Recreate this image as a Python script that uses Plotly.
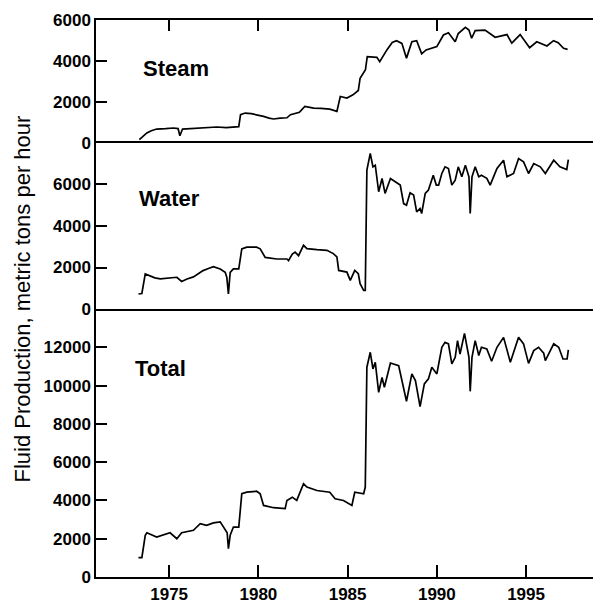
import plotly.graph_objects as go

# ---- data ----
steam_year = [1973.33, 1973.5, 1973.75, 1974.0, 1974.3, 1974.8, 1975.24, 1975.5, 1975.6, 1975.75,
              1976.2, 1976.74, 1977.2, 1977.67, 1978.2, 1978.6, 1978.9, 1979.0, 1979.26, 1979.6,
              1979.9, 1980.29, 1980.6, 1980.85, 1981.22, 1981.6, 1981.8, 1982.0, 1982.3, 1982.6,
              1983.1, 1983.5, 1984.0, 1984.4, 1984.59, 1984.96, 1985.3, 1985.6, 1985.7, 1986.0,
              1986.1, 1986.64, 1986.8, 1987.2, 1987.5, 1987.74, 1988.04, 1988.3, 1988.6, 1988.87,
              1989.15, 1989.4, 1990.0, 1990.37, 1990.65, 1991.03, 1991.2, 1991.6, 1991.8, 1991.95,
              1992.15, 1992.7, 1993.27, 1993.93, 1994.2, 1994.67, 1995.2, 1995.6, 1996.17, 1996.54,
              1996.8, 1997.1, 1997.33]
steam_val = [160, 300, 490, 600, 680, 700, 730, 700, 355, 680,
             700, 730, 760, 780, 750, 760, 800, 1380, 1460, 1430,
             1380, 1300, 1210, 1170, 1215, 1230, 1380, 1430, 1500, 1780,
             1700, 1690, 1650, 1540, 2270, 2190, 2350, 2560, 3160, 3570,
             4210, 4180, 3970, 4540, 4900, 4990, 4860, 4140, 4940, 4990,
             4350, 4540, 4700, 5270, 5380, 4940, 5340, 5640, 5510, 5110,
             5480, 5510, 5160, 5290, 4870, 5290, 4650, 4940, 4730, 4990,
             4890, 4620, 4570]

water_year = [1973.28, 1973.47, 1973.66, 1973.93, 1974.2, 1974.5, 1975.0, 1975.43, 1975.7, 1976.0,
              1976.36, 1976.9, 1977.2, 1977.48, 1977.86, 1978.14, 1978.23, 1978.32, 1978.42, 1978.6,
              1978.9, 1979.07, 1979.35, 1979.9, 1980.1, 1980.38, 1981.03, 1981.6, 1981.69, 1981.9,
              1982.06, 1982.25, 1982.53, 1982.72, 1983.28, 1983.84, 1984.2, 1984.4, 1984.5, 1984.96,
              1985.15, 1985.24, 1985.4, 1985.6, 1985.7, 1985.9, 1985.99, 1986.08, 1986.27, 1986.42,
              1986.55, 1986.74, 1986.93, 1987.1, 1987.4, 1987.67, 1987.95, 1988.14, 1988.3, 1988.5,
              1988.7, 1988.87, 1989.06, 1989.15, 1989.35, 1989.53, 1989.8, 1989.97, 1990.1, 1990.28,
              1990.46, 1990.65, 1990.84, 1991.03, 1991.2, 1991.4, 1991.6, 1991.8, 1991.87, 1991.97,
              1992.15, 1992.35, 1992.5, 1992.8, 1992.99, 1993.37, 1993.74, 1993.93, 1994.1, 1994.3,
              1994.58, 1994.86, 1995.14, 1995.43, 1995.8, 1996.08, 1996.55, 1996.9, 1997.28, 1997.37]
water_val = [725, 750, 1690, 1610, 1500, 1450, 1500, 1530, 1330, 1450,
             1550, 1850, 1950, 2040, 1930, 1770, 1530, 725, 1770, 1930,
             1930, 2900, 2980, 2980, 2900, 2490, 2410, 2410, 2330, 2650,
             2740, 2570, 3070, 2910, 2860, 2830, 2670, 2510, 1860, 1780,
             1380, 1540, 1860, 1700, 1220, 900, 900, 6690, 7500, 6850,
             6930, 5650, 6290, 5570, 6290, 6130, 5970, 5080, 5000, 5600,
             5490, 4680, 4840, 4600, 5570, 5730, 6450, 5970, 5970, 6530,
             6850, 6770, 5970, 6210, 6850, 6370, 6930, 6370, 4600, 6370,
             6850, 6370, 6450, 6300, 5970, 6770, 7170, 6370, 6450, 6530,
             7250, 7090, 6530, 7010, 6850, 6530, 7170, 6850, 6720, 7200]

total_year = [1973.28, 1973.47, 1973.66, 1973.75, 1974.3, 1974.7, 1975.05, 1975.43, 1975.7, 1976.36,
              1976.74, 1977.1, 1977.48, 1977.86, 1978.05, 1978.25, 1978.32, 1978.42, 1978.6, 1978.9,
              1979.07, 1979.35, 1979.9, 1980.1, 1980.29, 1980.85, 1981.5, 1981.6, 1981.9, 1982.15,
              1982.53, 1982.72, 1983.28, 1984.0, 1984.3, 1984.77, 1985.24, 1985.4, 1985.9, 1985.99,
              1986.08, 1986.27, 1986.42, 1986.55, 1986.74, 1986.93, 1987.06, 1987.4, 1987.86, 1988.14,
              1988.3, 1988.6, 1988.8, 1989.06, 1989.3, 1989.53, 1989.72, 1990.0, 1990.28, 1990.46,
              1990.65, 1990.84, 1991.03, 1991.16, 1991.3, 1991.55, 1991.8, 1991.87, 1991.97, 1992.15,
              1992.35, 1992.5, 1992.8, 1993.07, 1993.37, 1993.74, 1994.12, 1994.58, 1994.86, 1995.14,
              1995.43, 1995.7, 1995.99, 1996.08, 1996.55, 1996.83, 1997.07, 1997.3, 1997.37]
total_val = [1010, 1010, 2180, 2310, 2090, 2200, 2310, 2000, 2310, 2440,
             2790, 2700, 2830, 2880, 2610, 2310, 1480, 2180, 2610, 2610,
             4350, 4430, 4480, 4350, 3740, 3620, 3570, 4000, 4170, 4000,
             4870, 4700, 4520, 4430, 4090, 4000, 3740, 4430, 4350, 4700,
             10960, 11740, 10870, 11220, 9650, 10430, 9910, 11180, 11040, 9740,
             9180, 10610, 10260, 8900, 10090, 10350, 10960, 10610, 12000, 12260,
             12180, 11130, 11480, 12350, 11650, 12730, 11480, 9700, 11480, 12350,
             11570, 12000, 11910, 11270, 12000, 12520, 11220, 12520, 12180, 11160,
             11830, 12000, 11690, 11310, 12180, 12000, 11390, 11390, 11870]

year_ticks = [1975, 1980, 1985, 1990, 1995]
steam_ticks = [0, 2000, 4000, 6000]
water_ticks = [0, 2000, 4000, 6000]
total_ticks = [0, 2000, 4000, 6000, 8000, 10000, 12000]
panel_names = ["Steam", "Water", "Total"]
y_title = "Fluid Production, metric tons per hour"

FONT = "Liberation Sans, Arial, Helvetica, sans-serif"
XR = [1970.9, 1999.2]

fig = go.Figure()
line = dict(color="black", width=1.7)
fig.add_trace(go.Scatter(x=steam_year, y=steam_val, mode="lines", line=line, xaxis="x", yaxis="y"))
fig.add_trace(go.Scatter(x=water_year, y=water_val, mode="lines", line=line, xaxis="x2", yaxis="y2"))
fig.add_trace(go.Scatter(x=total_year, y=total_val, mode="lines", line=line, xaxis="x3", yaxis="y3"))

d_total = [0, 0.4811]
d_water = [0.4811, 0.7792]
d_steam = [0.7792, 1.0]

tickfont = dict(family=FONT, size=17, color="black", weight="bold")
common_x = dict(range=XR, showgrid=False, zeroline=False, showline=True, linecolor="black",
                linewidth=2.2, tickvals=year_ticks, ticktext=[str(v) for v in year_ticks],
                tickcolor="black", tickwidth=1.5, automargin=False)
common_y = dict(showgrid=False, zeroline=False, showline=True, linecolor="black", linewidth=1.5,
                ticks="inside", ticklen=11, tickwidth=1.5, tickcolor="black", tickfont=tickfont,
                automargin=False)

# page body has an 8px default margin: size/margins compensate so the plot area
# lands at the same pixels as the reference
fig.update_layout(
    width=593, height=593,
    margin=dict(l=88, r=0, t=12, b=24),
    paper_bgcolor="white", plot_bgcolor="white",
    showlegend=False,
    xaxis=dict(common_x, anchor="y", domain=[0, 1], side="top", ticks="inside", ticklen=11,
               showticklabels=False, mirror=False),
    xaxis2=dict(common_x, anchor="y2", domain=[0, 1], ticks="", showticklabels=False, mirror=True),
    xaxis3=dict(common_x, anchor="y3", domain=[0, 1], ticks="inside", ticklen=12, mirror=False,
                showticklabels=True, tickfont=tickfont, ticklabelstandoff=0),
    yaxis=dict(common_y, anchor="x", domain=d_steam, range=[0, 6000], tickvals=steam_ticks,
               ticktext=[str(v) for v in steam_ticks]),
    yaxis2=dict(common_y, anchor="x2", domain=d_water, range=[0, 8000], tickvals=water_ticks,
                ticktext=[str(v) for v in water_ticks]),
    yaxis3=dict(common_y, anchor="x3", domain=d_total, range=[0, 14000], tickvals=total_ticks,
                ticktext=[str(v) for v in total_ticks]),
)

lab_font = dict(family=FONT, size=22, color="black", weight="bold")
fig.add_annotation(text=panel_names[0], x=1973.41, y=3615, xref="x", yref="y",
                   xanchor="left", yanchor="middle", showarrow=False, font=lab_font)
fig.add_annotation(text=panel_names[1], x=1973.19, y=5325, xref="x2", yref="y2",
                   xanchor="left", yanchor="middle", showarrow=False, font=lab_font)
fig.add_annotation(text=panel_names[2], x=1973.0, y=10900, xref="x3", yref="y3",
                   xanchor="left", yanchor="middle", showarrow=False, font=lab_font)

fig.add_annotation(text=y_title, x=-0.1446, y=0.5, xref="paper", yref="paper",
                   xanchor="center", yanchor="middle", textangle=-90, showarrow=False,
                   font=dict(family=FONT, size=22, color="black"))

fig.write_html("out.html")
